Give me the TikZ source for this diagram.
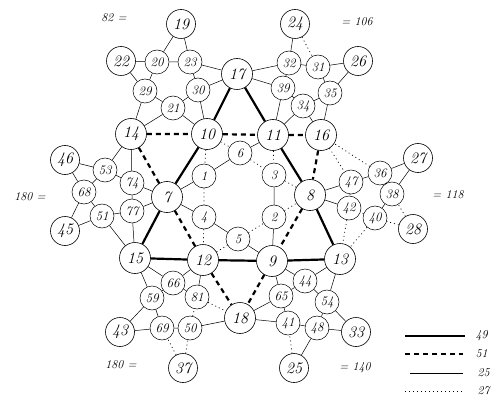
\documentclass[tikz,border=0pt]{standalone}
\begin{document}
\begin{tikzpicture}[x=1pt,y=-1pt,
  big/.style={draw,circle,line width=0.6pt,minimum size=31pt,inner sep=0pt,font=\fontsize{16}{16}\selectfont\itshape},
  outer/.style={draw,circle,line width=0.6pt,minimum size=29pt,inner sep=0pt,font=\fontsize{16}{16}\selectfont\itshape},
  sml/.style={draw,circle,line width=0.5pt,minimum size=24pt,inner sep=0pt,font=\fontsize{13}{13}\selectfont\itshape},
  lbl/.style={font=\fontsize{12}{12}\selectfont\itshape},
  heavy/.style={line width=2.2pt},
  dashline/.style={line width=2.2pt,dash pattern=on 5pt off 4pt},
  thinl/.style={line width=0.5pt},
  dotl/.style={line width=0.7pt,dash pattern=on 1pt off 3pt},
]
\useasboundingbox (0,0) rectangle (497,406);
% main hexagram
\node[big] (n17) at (237,74) {17};
\node[big] (n10) at (207,134) {10};
\node[big] (n11) at (273,135) {11};
\node[big] (n14) at (131,134) {14};
\node[big] (n16) at (321,135) {16};
\node[big] (n7) at (167,197) {7};
\node[big] (n8) at (310,195) {8};
\node[big] (n15) at (135,258) {15};
\node[big] (n12) at (203,260) {12};
\node[big] (n9) at (272,261) {9};
\node[big] (n13) at (340,259) {13};
\node[big] (n18) at (240,318) {18};
% inner
\node[sml] (n6) at (240,153) {6};
\node[sml] (n1) at (204,176) {1};
\node[sml] (n3) at (274,175) {3};
\node[sml] (n4) at (204,217) {4};
\node[sml] (n2) at (274,217) {2};
\node[sml] (n5) at (238,239) {5};
% top-left
\node[outer] (n19) at (181,24) {19};
\node[outer] (n22) at (121,61) {22};
\node[sml] (n20) at (157,62) {20};
\node[sml] (n23) at (190,62) {23};
\node[sml] (n29) at (145,91) {29};
\node[sml] (n30) at (198,90) {30};
\node[sml] (n21) at (173,108) {21};
% top-right
\node[outer] (n24) at (295,24) {24};
\node[outer] (n26) at (358,61) {26};
\node[sml] (n32) at (289,63) {32};
\node[sml] (n31) at (318,67) {31};
\node[sml] (n39) at (283,88) {39};
\node[sml] (n35) at (330,93) {35};
\node[sml] (n34) at (303,106) {34};
% right
\node[outer] (n27) at (418,158) {27};
\node[outer] (n28) at (413,229) {28};
\node[sml] (n36) at (380,173) {36};
\node[sml] (n47) at (351,182) {47};
\node[sml] (n38) at (392,194) {38};
\node[sml] (n42) at (349,208) {42};
\node[sml] (n40) at (375,218) {40};
% left
\node[outer] (n46) at (65,160) {46};
\node[outer] (n45) at (65,231) {45};
\node[sml] (n53) at (105,170) {53};
\node[sml] (n68) at (84,192) {68};
\node[sml] (n74) at (132,183) {74};
\node[sml] (n77) at (132,211) {77};
\node[sml] (n51) at (102,216) {51};
% bottom-left
\node[outer] (n43) at (120,332) {43};
\node[outer] (n37) at (183,368) {37};
\node[sml] (n66) at (173,283) {66};
\node[sml] (n59) at (152,298) {59};
\node[sml] (n81) at (197,297) {81};
\node[sml] (n69) at (162,328) {69};
\node[sml] (n50) at (190,328) {50};
% bottom-right
\node[outer] (n33) at (356,332) {33};
\node[outer] (n25) at (294,368) {25};
\node[sml] (n44) at (305,281) {44};
\node[sml] (n65) at (281,296) {65};
\node[sml] (n54) at (327,302) {54};
\node[sml] (n41) at (288,323) {41};
\node[sml] (n48) at (317,328) {48};
% hexagram lines
\draw[heavy] (n17)--(n10)--(n7)--(n15);
\draw[heavy] (n17)--(n11)--(n8)--(n13);
\draw[heavy] (n15)--(n12)--(n9)--(n13);
\draw[dashline] (n14)--(n10)--(n11)--(n16);
\draw[dashline] (n14)--(n7)--(n12)--(n18);
\draw[dashline] (n16)--(n8)--(n9)--(n18);
\draw[thinl] (n7)--(n1)--(n6)--(n11);
\draw[thinl] (n7)--(n4)--(n5)--(n9);
\draw[thinl] (n3)--(n2)--(n9);
\draw[dotl] (n11)--(n3);
\draw[dotl] (n10)--(n6)--(n3)--(n8);
\draw[dotl] (n10)--(n1)--(n4)--(n12);
\draw[dotl] (n12)--(n5)--(n2)--(n8);
% top-left pentagram
\draw[thinl] (n19)--(n20)--(n29)--(n14);
\draw[thinl] (n19)--(n23)--(n30)--(n10);
\draw[thinl] (n17)--(n23)--(n20)--(n22);
\draw[thinl] (n17)--(n30)--(n21)--(n14);
\draw[thinl] (n22)--(n29)--(n21)--(n10);
% top-right pentagram
\draw[thinl] (n24)--(n32)--(n39)--(n11);
\draw[dotl] (n24)--(n31);
\draw[thinl] (n31)--(n35)--(n16);
\draw[thinl] (n26)--(n31)--(n32)--(n17);
\draw[thinl] (n26)--(n35)--(n34)--(n11);
\draw[thinl] (n17)--(n39)--(n34)--(n16);
% right pentagram
\draw[thinl] (n27)--(n36)--(n47)--(n8);
\draw[thinl] (n27)--(n38)--(n40);
\draw[dotl] (n40)--(n13);
\draw[dotl] (n28)--(n38)--(n36)--(n16);
\draw[dotl] (n28)--(n40)--(n42);
\draw[thinl] (n42)--(n8);
\draw[dotl] (n16)--(n47)--(n42)--(n13);
% bottom-right pentagram
\draw[thinl] (n33)--(n54)--(n44)--(n9);
\draw[thinl] (n33)--(n48)--(n41)--(n18);
\draw[thinl] (n25)--(n48)--(n54)--(n13);
\draw[dotl] (n25)--(n41);
\draw[thinl] (n41)--(n65)--(n9);
\draw[thinl] (n13)--(n44)--(n65)--(n18);
% bottom-left pentagram
\draw[thinl] (n43)--(n59)--(n66)--(n12);
\draw[thinl] (n43)--(n69)--(n50)--(n18);
\draw[dotl] (n37)--(n69);
\draw[thinl] (n69)--(n59)--(n15);
\draw[dotl] (n37)--(n50)--(n81);
\draw[thinl] (n81)--(n12);
\draw[thinl] (n15)--(n66)--(n81);
\draw[dotl] (n81)--(n18);
% left pentagram
\draw[thinl] (n46)--(n53)--(n74)--(n7);
\draw[thinl] (n46)--(n68)--(n51)--(n15);
\draw[thinl] (n45)--(n68)--(n53)--(n14);
\draw[thinl] (n45)--(n51)--(n77)--(n7);
\draw[thinl] (n14)--(n74)--(n77)--(n15);
% sums
\node[lbl] (s1) at (114,18) {82 =};
\node[lbl] (s2) at (357,22) {= 106};
\node[lbl] (s3) at (30,197) {180 =};
\node[lbl] (s4) at (448,195) {= 118};
\node[lbl] (s5) at (121,365) {180 =};
\node[lbl] (s6) at (355,368) {= 140};
% legend
\coordinate (a1) at (405,336); \coordinate (b1) at (465,336);
\coordinate (a2) at (405,354); \coordinate (b2) at (463,354);
\coordinate (a3) at (410,373); \coordinate (b3) at (463,373);
\coordinate (a4) at (405,391); \coordinate (b4) at (463,391);
\draw[line width=1.3pt] (a1)--(b1);
\draw[dashline,line width=1.8pt] (a2)--(b2);
\draw[thinl] (a3)--(b3);
\draw[dotl] (a4)--(b4);
\node[lbl,anchor=west] (t1) at (472,336) {49};
\node[lbl,anchor=west] (t2) at (472,354) {51};
\node[lbl,anchor=west] (t3) at (474,373) {25};
\node[lbl,anchor=west] (t4) at (474,391) {27};
\end{tikzpicture}
\end{document}
